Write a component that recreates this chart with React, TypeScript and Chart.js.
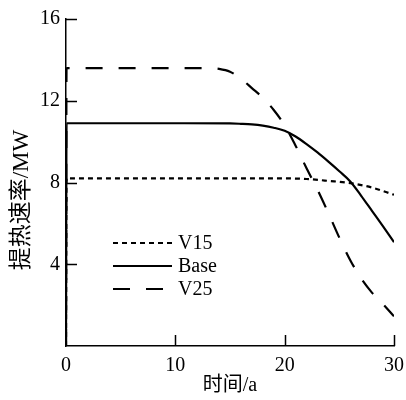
import React, { useEffect, useRef } from "react";
import { Chart, registerables } from "chart.js";

Chart.register(...registerables);

const seriesNames = ["V15", "Base", "V25"];

const v15X = [0, 0.05, 10, 20, 22, 24, 26, 28, 30];
const v15Y = [0, 8.2, 8.2, 8.2, 8.17, 8.08, 7.97, 7.75, 7.4];

const baseX = [0, 0.05, 5, 10, 15, 16, 17, 18, 19, 20, 21, 22, 23, 24, 25, 26, 27, 28, 29, 30];
const baseY = [0, 10.9, 10.9, 10.9, 10.89, 10.87, 10.84, 10.78, 10.68, 10.53, 10.25, 9.88, 9.47, 9.02, 8.55, 8.05, 7.35, 6.6, 5.85, 5.08];

const v25X = [0, 0.05, 5, 10, 13, 14, 15, 16, 17, 18, 19, 20, 21, 22, 23, 24, 25, 26, 27, 28, 29, 30];
const v25Y = [0, 13.6, 13.6, 13.6, 13.6, 13.56, 13.42, 13.08, 12.62, 12.15, 11.55, 10.8, 9.8, 8.7, 7.65, 6.5, 5.3, 4.2, 3.3, 2.6, 2.05, 1.45];

const xTicks = [0, 10, 20, 30];
const yTicks = [4, 8, 12, 16];

const xTitle = "时间/a";
const yTitle = "提热速率/MW";

const FONT = '"Liberation Serif", "Noto Sans CJK SC", serif';

const zip = (xs: number[], ys: number[]) => xs.map((x, i) => ({ x, y: ys[i] }));

const overlayPlugin = {
  id: "overlay",
  afterDraw(chart: any) {
    const ctx = chart.ctx;
    const xs = chart.scales.x;
    const ys = chart.scales.y;
    ctx.save();
    // inward ticks
    ctx.strokeStyle = "#000";
    ctx.lineWidth = 1.5;
    ctx.setLineDash([]);
    ctx.beginPath();
    yTicks.forEach((v) => {
      const py = Math.round(ys.getPixelForValue(v)) + 0.5;
      ctx.moveTo(xs.left, py);
      ctx.lineTo(xs.left + 11, py);
    });
    xTicks.forEach((v) => {
      if (v === 0) return;
      const px = Math.round(xs.getPixelForValue(v)) + 0.5;
      ctx.moveTo(px, ys.bottom);
      ctx.lineTo(px, ys.bottom - 11);
    });
    ctx.stroke();

    // legend
    const lx0 = 113;
    const lx1 = 172;
    const ly0 = 243;
    const dy = 23;
    chart.data.datasets.forEach((ds: any, i: number) => {
      const y = ly0 + i * dy;
      ctx.strokeStyle = "#000";
      ctx.lineWidth = ds.borderWidth;
      ctx.setLineDash(ds.borderDash || []);
      ctx.beginPath();
      ctx.moveTo(lx0, y);
      ctx.lineTo(lx1, y);
      ctx.stroke();
      ctx.setLineDash([]);
      ctx.fillStyle = "#000";
      ctx.font = `20px ${FONT}`;
      ctx.textAlign = "left";
      ctx.textBaseline = "middle";
      ctx.fillText(ds.label, 178, y + 1);
    });

    // y title
    ctx.translate(22, 200);
    ctx.rotate(-Math.PI / 2);
    ctx.font = `23px ${FONT}`;
    ctx.textAlign = "center";
    ctx.textBaseline = "middle";
    ctx.fillStyle = "#000";
    ctx.fillText(yTitle, 0, 0);
    ctx.restore();
  },
};

export default function App() {
  const ref = useRef<HTMLCanvasElement>(null);
  useEffect(() => {
    if (!ref.current) return;
    const common = {
      borderColor: "#000",
      borderWidth: 2.2,
      pointRadius: 0,
      fill: false,
      cubicInterpolationMode: "monotone" as const,
      borderCapStyle: "butt" as const,
    };
    const chart = new Chart(ref.current, {
      type: "line",
      data: {
        datasets: [
          { ...common, label: seriesNames[0], data: zip(v15X, v15Y), borderDash: [5, 4] },
          { ...common, label: seriesNames[1], data: zip(baseX, baseY), borderDash: [] },
          { ...common, label: seriesNames[2], data: zip(v25X, v25Y), borderDash: [17, 16] },
        ],
      },
      options: {
        animation: false,
        responsive: false,
        devicePixelRatio: 1,
        layout: { padding: { top: 19, right: 0, left: 0, bottom: 0 } },
        plugins: { legend: { display: false }, tooltip: { enabled: false } },
        scales: {
          x: {
            type: "linear",
            min: 0,
            max: 30,
            afterFit: (s: any) => {
              s.height = 54;
              s.paddingRight = 12;
            },
            afterBuildTicks: (s: any) => {
              s.ticks = xTicks.map((v) => ({ value: v }));
            },
            grid: { display: true, drawOnChartArea: false, drawTicks: false },
            border: { display: true, color: "#000", width: 1.5 },
            ticks: { color: "#000", padding: 8, font: { family: FONT, size: 20 }, maxRotation: 0 },
            title: {
              display: true,
              text: xTitle,
              color: "#000",
              font: { family: FONT, size: 20 },
              padding: { top: 0, bottom: 2 },
            },
          },
          y: {
            type: "linear",
            min: 0,
            max: 16,
            afterFit: (s: any) => {
              s.width = 66;
            },
            afterBuildTicks: (s: any) => {
              s.ticks = yTicks.map((v) => ({ value: v }));
            },
            grid: { display: true, drawOnChartArea: false, drawTicks: false },
            border: { display: true, color: "#000", width: 1.5 },
            ticks: { color: "#000", padding: 6, font: { family: FONT, size: 20 } },
          },
        },
      },
      plugins: [overlayPlugin],
    });
    return () => chart.destroy();
  }, []);
  return (
    <div style={{ position: "absolute", left: 0, top: 0, width: 406, height: 400, background: "#fff" }}>
      <canvas ref={ref} width={406} height={400} style={{ width: 406, height: 400 }} />
    </div>
  );
}
